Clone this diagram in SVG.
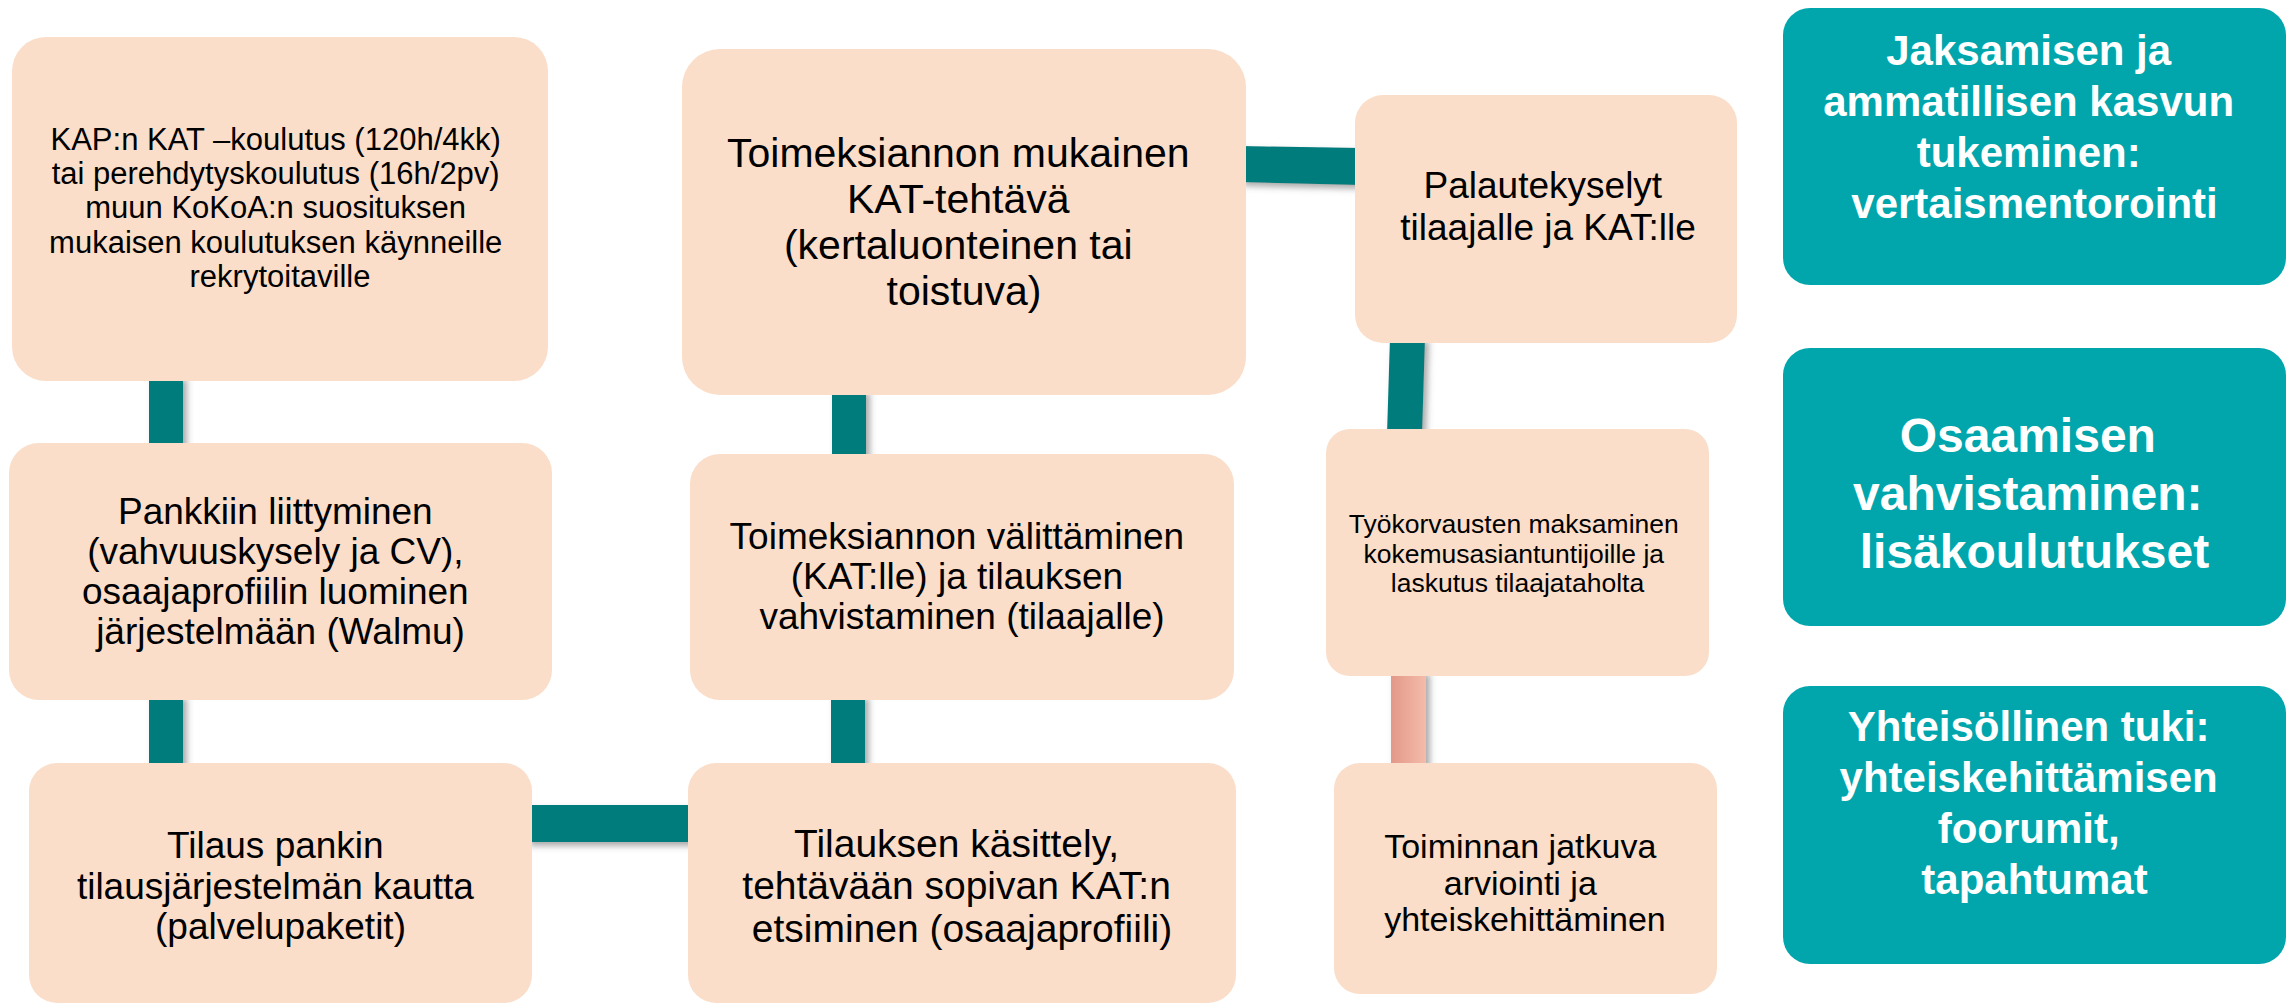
<svg xmlns="http://www.w3.org/2000/svg" width="2290" height="1006" viewBox="0 0 2290 1006">
  <style>
    .box { fill: #FADEC9; }
    .tbox { fill: #00A6AC; }
    .t { font-family: "Liberation Sans", Arial, sans-serif; fill: #000; text-anchor: middle; }
    .tw { font-family: "Liberation Sans", Arial, sans-serif; font-weight: bold; fill: #fff; text-anchor: middle; }
    .conn { fill: #007C7C; }
  </style>
  <defs>
    <filter id="sh" x="-50%" y="-50%" width="200%" height="200%">
      <feDropShadow dx="4" dy="4" stdDeviation="3" flood-color="#555" flood-opacity="0.5"/>
    </filter>
    <linearGradient id="pink" x1="0" y1="0" x2="1" y2="0">
      <stop offset="0" stop-color="#E39888"/>
      <stop offset="1" stop-color="#F4BCAB"/>
    </linearGradient>
  </defs>
  <rect width="2290" height="1006" fill="#fff"/>

  <g id="connectors">
    <rect class="conn" filter="url(#sh)" x="149" y="375" width="34" height="74"/>
    <rect class="conn" filter="url(#sh)" x="149" y="694" width="34" height="75"/>
    <rect class="conn" filter="url(#sh)" x="526" y="805" width="168" height="37"/>
    <rect class="conn" filter="url(#sh)" x="831" y="694" width="34" height="75"/>
    <rect class="conn" filter="url(#sh)" x="832" y="389" width="34" height="71"/>
    <polygon class="conn" filter="url(#sh)" points="1240,146 1361,148 1361,185 1240,182"/>
    <polygon class="conn" filter="url(#sh)" points="1390,337 1425,337 1422,435 1387,435"/>
    <rect fill="url(#pink)" filter="url(#sh)" x="1391" y="670" width="35" height="99"/>
  </g>

  <g id="n1">
    <rect class="box" x="12" y="37" width="536" height="344" rx="34"/>
    <text class="t" font-size="31">
      <tspan x="280" y="150">KAP:n KAT –koulutus (120h/4kk)</tspan>
      <tspan x="280" y="184">tai perehdytyskoulutus (16h/2pv)</tspan>
      <tspan x="280" y="218">muun KoKoA:n suosituksen</tspan>
      <tspan x="280" y="253">mukaisen koulutuksen käynneille</tspan>
      <tspan x="280" y="287">rekrytoitaville</tspan>
    </text>
  </g>

  <g id="n2">
    <rect class="box" x="9" y="443" width="543" height="257" rx="30"/>
    <text class="t" font-size="37">
      <tspan x="280.5" y="524">Pankkiin liittyminen</tspan>
      <tspan x="280.5" y="564">(vahvuuskysely ja CV),</tspan>
      <tspan x="280.5" y="604">osaajaprofiilin luominen</tspan>
      <tspan x="280.5" y="644">järjestelmään (Walmu)</tspan>
    </text>
  </g>

  <g id="n3">
    <rect class="box" x="29" y="763" width="503" height="240" rx="28"/>
    <text class="t" font-size="37">
      <tspan x="280.5" y="858">Tilaus pankin</tspan>
      <tspan x="280.5" y="898.5">tilausjärjestelmän kautta</tspan>
      <tspan x="280.5" y="939">(palvelupaketit)</tspan>
    </text>
  </g>

  <g id="n4">
    <rect class="box" x="682" y="49" width="564" height="346" rx="38"/>
    <text class="t" font-size="41">
      <tspan x="964" y="167">Toimeksiannon mukainen</tspan>
      <tspan x="964" y="213">KAT-tehtävä</tspan>
      <tspan x="964" y="259">(kertaluonteinen tai</tspan>
      <tspan x="964" y="305">toistuva)</tspan>
    </text>
  </g>

  <g id="n5">
    <rect class="box" x="690" y="454" width="544" height="246" rx="30"/>
    <text class="t" font-size="37">
      <tspan x="962" y="549">Toimeksiannon välittäminen</tspan>
      <tspan x="962" y="589">(KAT:lle) ja tilauksen</tspan>
      <tspan x="962" y="629">vahvistaminen (tilaajalle)</tspan>
    </text>
  </g>

  <g id="n6">
    <rect class="box" x="688" y="763" width="548" height="240" rx="28"/>
    <text class="t" font-size="39">
      <tspan x="962" y="856.5">Tilauksen käsittely,</tspan>
      <tspan x="962" y="899">tehtävään sopivan KAT:n</tspan>
      <tspan x="962" y="941.5">etsiminen (osaajaprofiili)</tspan>
    </text>
  </g>

  <g id="n7">
    <rect class="box" x="1355" y="95" width="382" height="248" rx="28"/>
    <text class="t" font-size="37">
      <tspan x="1548" y="198">Palautekyselyt</tspan>
      <tspan x="1548" y="240">tilaajalle ja KAT:lle</tspan>
    </text>
  </g>

  <g id="n8">
    <rect class="box" x="1326" y="429" width="383" height="247" rx="24"/>
    <text class="t" font-size="26.5">
      <tspan x="1517.5" y="533">Työkorvausten maksaminen</tspan>
      <tspan x="1517.5" y="562.5">kokemusasiantuntijoille ja</tspan>
      <tspan x="1517.5" y="592">laskutus tilaajataholta</tspan>
    </text>
  </g>

  <g id="n9">
    <rect class="box" x="1334" y="763" width="383" height="231" rx="26"/>
    <text class="t" font-size="34">
      <tspan x="1525" y="858">Toiminnan jatkuva</tspan>
      <tspan x="1525" y="894.5">arviointi ja</tspan>
      <tspan x="1525" y="931">yhteiskehittäminen</tspan>
    </text>
  </g>

  <g id="t1">
    <rect class="tbox" x="1783" y="8" width="503" height="277" rx="27"/>
    <text class="tw" font-size="42">
      <tspan x="2034.5" y="65">Jaksamisen ja</tspan>
      <tspan x="2034.5" y="116">ammatillisen kasvun</tspan>
      <tspan x="2034.5" y="167">tukeminen:</tspan>
      <tspan x="2034.5" y="218">vertaismentorointi</tspan>
    </text>
  </g>

  <g id="t2">
    <rect class="tbox" x="1783" y="348" width="503" height="278" rx="27"/>
    <text class="tw" font-size="48">
      <tspan x="2034.5" y="452">Osaamisen</tspan>
      <tspan x="2034.5" y="510">vahvistaminen:</tspan>
      <tspan x="2034.5" y="568">lisäkoulutukset</tspan>
    </text>
  </g>

  <g id="t3">
    <rect class="tbox" x="1783" y="686" width="503" height="278" rx="27"/>
    <text class="tw" font-size="42">
      <tspan x="2034.5" y="741">Yhteisöllinen tuki:</tspan>
      <tspan x="2034.5" y="792">yhteiskehittämisen</tspan>
      <tspan x="2034.5" y="843">foorumit,</tspan>
      <tspan x="2034.5" y="894">tapahtumat</tspan>
    </text>
  </g>
</svg>
